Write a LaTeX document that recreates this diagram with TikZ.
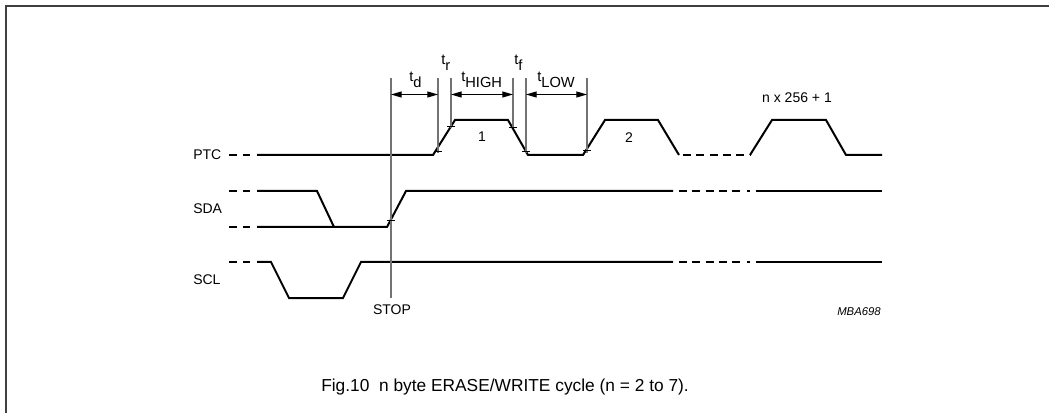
\documentclass[tikz,border=0pt]{standalone}
\usepackage{fontspec}
\setmainfont{Liberation Sans}
\usetikzlibrary{arrows.meta}
\begin{document}
\begin{tikzpicture}[x=0.75pt,y=-0.75pt,
  sig/.style={line width=1.5pt,black,line cap=butt},
  sigdash/.style={line width=1.5pt,black,dash pattern=on 6pt off 4pt},
  guide/.style={line width=1.1pt,black!55},
  tick/.style={line width=0.6pt,black},
  dim/.style={line width=0.8pt,black,{Triangle[length=8pt,width=4.5pt]}-{Triangle[length=8pt,width=4.5pt]}},
  lbl/.style={font=\fontsize{10.5}{12}\selectfont,inner sep=0pt},
  tl/.style={font=\fontsize{11}{12}\selectfont,inner sep=0pt,anchor=base west}]
\useasboundingbox (0,0) rectangle (1049,413);
% frame
\draw[line width=1.4pt,black!75] (6,413) -- (6,6) -- (1049,6);

% signal labels
\node[lbl,anchor=west] (ptc) at (193,155) {PTC};
\node[lbl,anchor=west] (sda) at (193,209) {SDA};
\node[lbl,anchor=west] (scl) at (193,280) {SCL};

% left dashes
\foreach \y in {155,191,227,262}{
  \draw[sig] (229,\y) -- (237,\y);
  \draw[sig] (243,\y) -- (250,\y);
}

% PTC
\draw[sig] (257,155) -- (433,155) -- (455,120) -- (508,120) -- (528,155) -- (583,155)
  -- (605,120) -- (658,120) -- (679,155);
\draw[sigdash] (683,155) -- (750,155);
\draw[sig] (750,155) -- (772,120) -- (826,120) -- (846,155) -- (882,155);

% SDA
\draw[sig] (257,191) -- (317,191) -- (334,227);
\draw[sig] (257,227) -- (387,227) -- (406,191) -- (673,191);
\draw[sigdash] (679,191) -- (744,191);
\draw[sig] (747,191) -- (750,191);
\draw[sig] (756,191) -- (882,191);

% SCL
\draw[sig] (257,262) -- (271,262) -- (289,298) -- (343,298) -- (361,262) -- (673,262);
\draw[sigdash] (679,262) -- (744,262);
\draw[sig] (747,262) -- (750,262);
\draw[sig] (756,262) -- (882,262);

% guide lines
\coordinate (g0t) at (391,78);  \coordinate (g0b) at (391,298);
\coordinate (g1t) at (438,78);  \coordinate (g1b) at (438,153);
\coordinate (g2t) at (451,78);  \coordinate (g2b) at (451,128);
\coordinate (g3t) at (513,78);  \coordinate (g3b) at (513,128);
\coordinate (g4t) at (526,78);  \coordinate (g4b) at (526,153);
\coordinate (g5t) at (587,78);  \coordinate (g5b) at (587,153);
\foreach \i in {0,...,5}{\draw[guide] (g\i t) -- (g\i b);}

% ticks
\foreach \p in {(438,151),(451,126),(513,127),(526,151),(587,150),(391,220)}{
  \draw[tick] \p ++(-4,0) -- ++(8,0);
}

% dimension arrows
\draw[dim] (391,94.5) -- (438,94.5);
\draw[dim] (451,94.5) -- (513,94.5);
\draw[dim] (526,94.5) -- (587,94.5);

% timing labels
\node[tl] (td) at (409,82) {t\raisebox{-4pt}{d}};
\node[tl] (tr) at (441,65) {t\raisebox{-4pt}{r}};
\node[tl] (th) at (461,82) {t\raisebox{-4pt}{HIGH}};
\node[tl] (tf) at (514,65) {t\raisebox{-4pt}{f}};
\node[tl] (tlow) at (537,82) {t\raisebox{-4pt}{LOW}};

% pulse labels
\node[lbl] (n1) at (482,137) {1};
\node[lbl] (n2) at (629,138) {2};
\node[lbl] (nn) at (797,97.5) {n x 256 + 1};

\node[lbl] (stop) at (392,310) {STOP};
\node[font=\fontsize{8.5}{10}\selectfont\itshape,inner sep=0pt] (ref) at (859,312) {MBA698};

\node[font=\fontsize{13}{15}\selectfont,inner sep=0pt,anchor=base west] (cap) at (321,391) {Fig.10\ \ n byte ERASE/WRITE cycle (n = 2 to 7).};
\end{tikzpicture}
\end{document}
